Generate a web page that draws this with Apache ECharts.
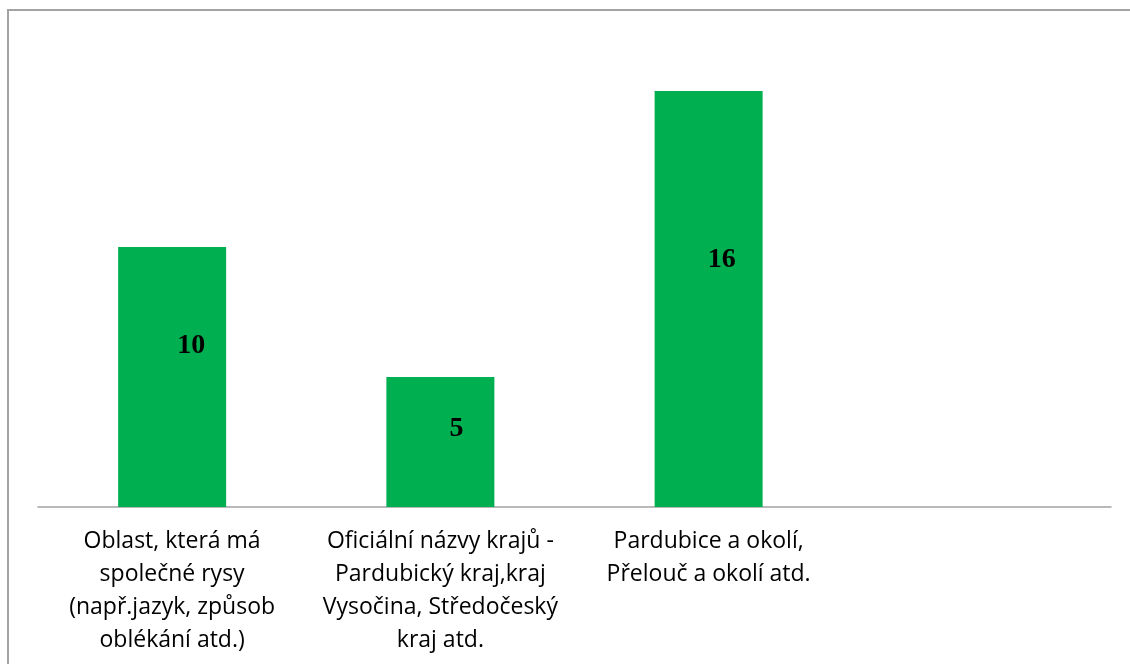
<!DOCTYPE html>
<html>
<head>
<meta charset="utf-8">
<script src="https://cdn.jsdelivr.net/npm/echarts@6/dist/echarts.min.js"></script>
<style>
html,body{margin:0;padding:0;background:#fff;overflow:hidden;width:1130px;height:664px;}
#frame{position:absolute;left:7px;top:9px;width:1130px;height:664px;border-top:2px solid #a3a3a3;border-left:2px solid #a3a3a3;box-sizing:border-box;}
#chart{position:absolute;left:0;top:0;width:1130px;height:664px;}
</style>
</head>
<body>
<div id="frame"></div>
<div id="chart"></div>
<script>
const categories = [
  "Oblast, která má\nspolečné rysy\n(např.jazyk, způsob\noblékání atd.)",
  "Oficiální názvy krajů -\nPardubický kraj,kraj\nVysočina, Středočeský\nkraj atd.",
  "Pardubice a okolí,\nPřelouč a okolí atd.",
  ""
];
const values = [10, 5, 16, null];

const labelOffsets = [[19, -31], [16, -13], [13, -39], [0, 0]];

const chart = echarts.init(document.getElementById('chart'), null, {renderer: 'canvas'});
chart.setOption({
  animation: false,
  backgroundColor: 'transparent',
  grid: {left: 38, right: 19, top: 39, bottom: 157, containLabel: false},
  xAxis: {
    type: 'category',
    data: categories,
    axisLine: {show: true, lineStyle: {color: '#a3a3a3', width: 1.5}},
    axisTick: {show: false},
    axisLabel: {
      interval: 0,
      margin: 18,
      color: '#000',
      fontFamily: 'Open Sans, Noto Sans, sans-serif',
      fontSize: 23,
      lineHeight: 33
    }
  },
  yAxis: {
    type: 'value',
    min: 0, max: 18, interval: 2,
    show: false
  },
  series: [{
    type: 'bar',
    barWidth: 108,
    itemStyle: {color: '#00B050'},
    data: values.map((v, i) => ({
      value: v,
      label: {offset: labelOffsets[i]}
    })),
    label: {
      show: true,
      position: 'inside',
      color: '#000',
      fontFamily: 'Liberation Serif, Times New Roman, serif',
      fontWeight: 'bold',
      fontSize: 28
    }
  }]
});
</script>
</body>
</html>
